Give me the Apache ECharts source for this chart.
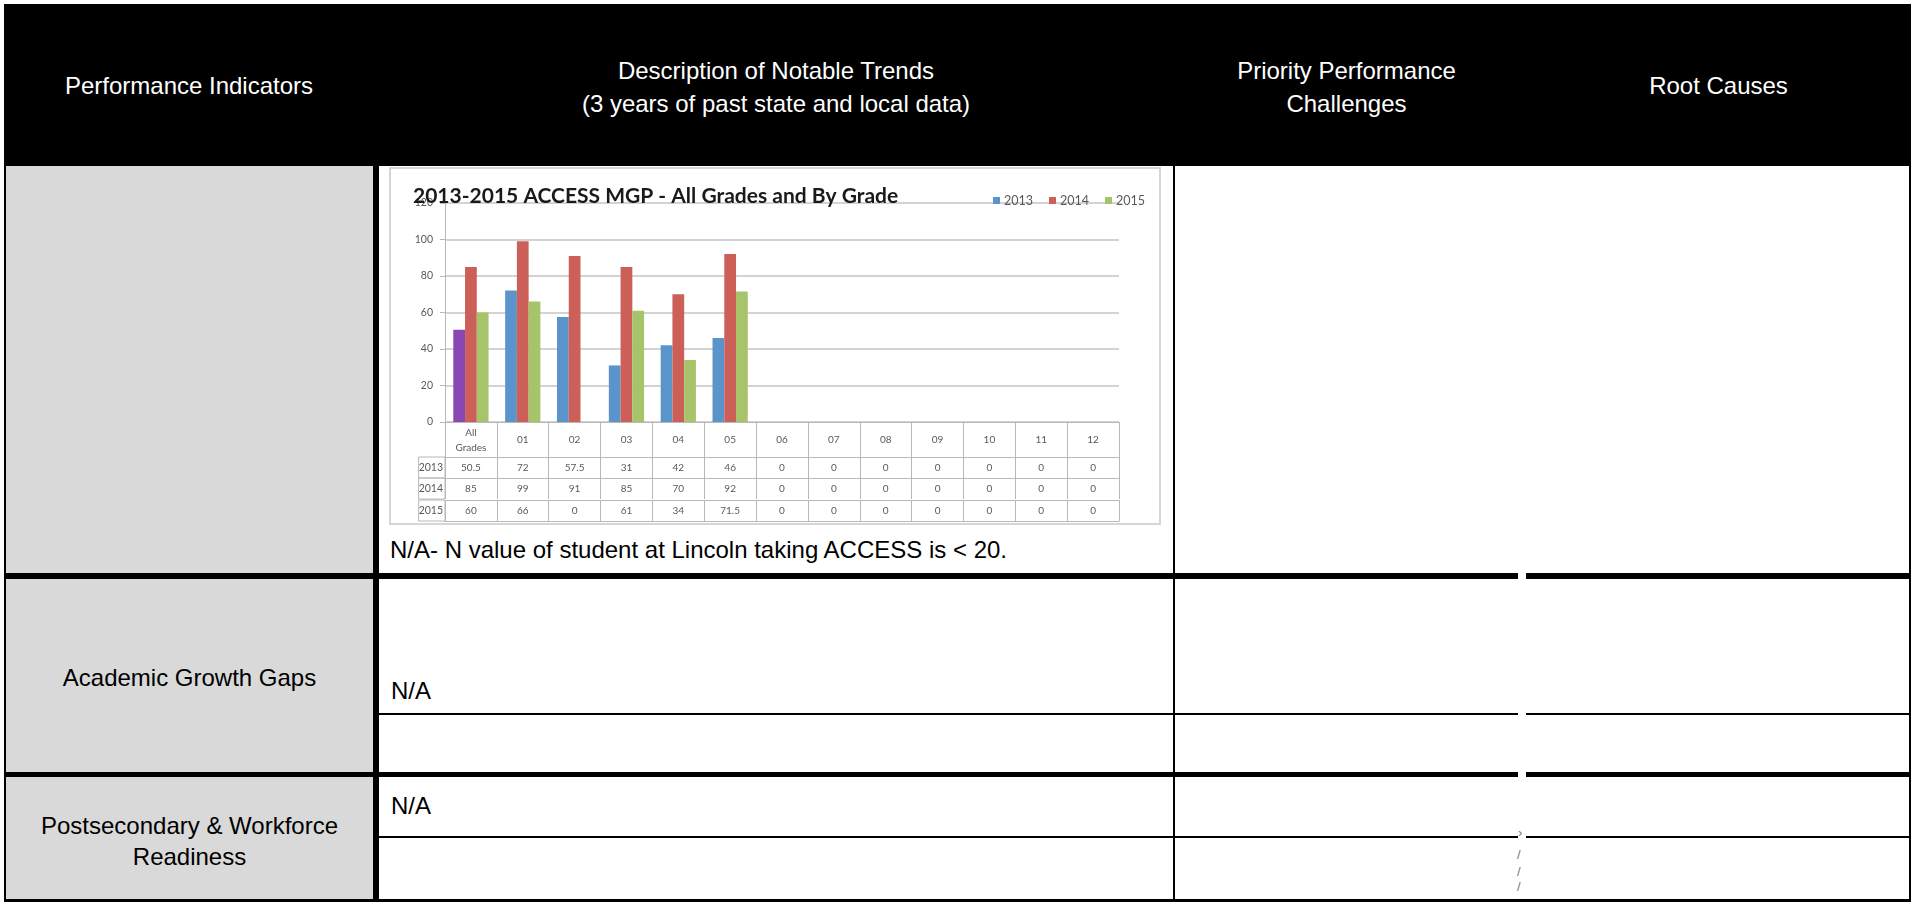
<!DOCTYPE html>
<html lang="en">
<head>
    <meta charset="UTF-8">
    <title>Performance Indicators - ACCESS MGP</title>
    <script src="https://cdn.jsdelivr.net/npm/echarts@6/dist/echarts.min.js"></script>
    <style>
        html, body {
            margin: 0;
            padding: 0;
            background: #fff;
            overflow: hidden;
        }

        body {
            width: 1915px;
            height: 902px;
            position: relative;
            font-family: "Liberation Sans", Arial, sans-serif;
            font-size: 24px;
            color: #000;
        }

        .blk { position: absolute; background: #000; }
        .gray { position: absolute; background: #d9d9d9; }
        .gap { position: absolute; background: #fff; left: 1518px; width: 8px; }
        .txt { position: absolute; line-height: 24px; white-space: nowrap; }
        .hd {
            position: absolute;
            top: 4px;
            height: 162px;
            display: flex;
            align-items: center;
            justify-content: center;
            text-align: center;
            color: #fff;
            line-height: 33px;
            padding-top: 4px;
            box-sizing: border-box;
        }
        .mark { position: absolute; font-size: 13px; color: #777; line-height: 13px; }
    </style>
</head>
<body>
<!-- header band -->
<div class="blk" style="left:4px; top:4px; width:1907px; height:162px;"></div>
<div class="hd" style="left:5px; width:368px; padding-top:0;">Performance Indicators</div>
<div class="hd" style="left:379px; width:794px;">Description of Notable Trends<br>(3 years of past state and local data)</div>
<div class="hd" style="left:1175px; width:343px;">Priority Performance<br>Challenges</div>
<div class="hd" style="left:1526px; width:385px; padding-top:0;">Root Causes</div>

<!-- grey indicator column -->
<div class="gray" style="left:6px; top:166px; width:367px; height:734px;"></div>

<!-- table rules -->
<div class="blk" style="left:4px; top:166px; width:2px; height:736px;"></div>
<div class="blk" style="left:373px; top:166px; width:6px; height:736px;"></div>
<div class="blk" style="left:1173px; top:166px; width:2px; height:736px;"></div>
<div class="blk" style="left:1909px; top:166px; width:2px; height:736px;"></div>
<div class="blk" style="left:4px; top:573px; width:1907px; height:6px;"></div>
<div class="blk" style="left:379px; top:713px; width:1532px; height:2px;"></div>
<div class="blk" style="left:4px; top:772px; width:1907px; height:5px;"></div>
<div class="blk" style="left:379px; top:836px; width:1532px; height:2px;"></div>
<div class="blk" style="left:4px; top:899px; width:1907px; height:3px;"></div>
<div class="gap" style="top:573px; height:6px;"></div>
<div class="gap" style="top:713px; height:2px;"></div>
<div class="gap" style="top:772px; height:5px;"></div>
<div class="gap" style="top:836px; height:2px;"></div>
<span class="mark" style="left:1518px; top:826px;">›</span>
<span class="mark" style="left:1517px; top:848px;">/</span>
<span class="mark" style="left:1517px; top:865px;">/</span>
<span class="mark" style="left:1517px; top:880px;">/</span>

<!-- chart picture -->
<div style="position:absolute; left:389px; top:167px; width:772px; height:358px; border:2px solid #d6d6d6; box-sizing:border-box;"></div>
<div id="main" style="position:absolute; left:391px; top:169px; width:768px; height:354px;"></div>

<div class="txt" style="left:390px; top:538px;">N/A- N value of student at Lincoln taking ACCESS is &lt; 20.</div>
<div class="txt" style="left:6px; top:666px; width:367px; text-align:center;">Academic Growth Gaps</div>
<div class="txt" style="left:391px; top:679px;">N/A</div>
<div class="txt" style="left:391px; top:794px;">N/A</div>
<div class="txt" style="left:6px; top:810px; width:367px; text-align:center; line-height:31px;">Postsecondary &amp; Workforce<br>Readiness</div>

<script type="application/javascript">
    var grades = ['All\nGrades', '01', '02', '03', '04', '05', '06', '07', '08', '09', '10', '11', '12'];
    var years = ['2013', '2014', '2015'];
    var mgp2013 = [50.5, 72, 57.5, 31, 42, 46, 0, 0, 0, 0, 0, 0, 0];
    var mgp2014 = [85, 99, 91, 85, 70, 92, 0, 0, 0, 0, 0, 0, 0];
    var mgp2015 = [60, 66, 0, 61, 34, 71.5, 0, 0, 0, 0, 0, 0, 0];
    var yTicks = [0, 20, 40, 60, 80, 100, 120];

    var colors = ['#5b93cb', '#cd5f59', '#a8c46a'];
    var allGradesColor = '#8a47b2';
    var tableLine = '#b8b8b8';
    var labelColor = '#595959';

    var myChart = echarts.init(document.getElementById('main'));

    // data table under the plot: one extra x axis per year row
    function rowAxis(values, name, offset) {
        return {
            type: 'category',
            position: 'bottom',
            offset: offset,
            data: grades,
            name: name,
            nameLocation: 'start',
            nameGap: 0,
            nameMoveOverlap: false,
            nameTextStyle: {
                fontSize: 10.5,
                color: labelColor,
                align: 'right',
                verticalAlign: 'top',
                width: 31,
                height: 21,
                lineHeight: 21,
                padding: [0, 2, 0, 0],
                borderColor: tableLine,
                borderWidth: 1
            },
            axisLine: {show: true, lineStyle: {color: tableLine, width: 1}},
            axisTick: {show: true, interval: 0, length: 21, lineStyle: {color: tableLine, width: 1}},
            axisLabel: {
                interval: 0,
                fontSize: 10,
                color: labelColor,
                verticalAlign: 'middle',
                margin: 11,
                formatter: function (v, i) {
                    return String(values[i]);
                }
            },
            splitLine: {show: false}
        };
    }

    var firstBars = mgp2013.map(function (v, i) {
        return i === 0 ? {value: v, itemStyle: {color: allGradesColor}} : v;
    });

    option = {
        animation: false,
        textStyle: {fontFamily: 'Lato'},
        title: {
            text: '2013-2015 ACCESS MGP - All Grades and By Grade',
            left: 22,
            top: 17,
            padding: 0,
            textStyle: {fontFamily: 'Lato', fontWeight: 'bold', fontSize: 21, color: '#1a1a1a'}
        },
        legend: {
            left: 602,
            top: 25,
            padding: 0,
            icon: 'rect',
            itemWidth: 7,
            itemHeight: 7,
            itemGap: 16,
            textStyle: {fontSize: 12.5, color: labelColor, padding: [0, 0, 0, -1]},
            data: years
        },
        grid: {left: 54, right: 40, top: 34, bottom: 101},
        xAxis: [
            {
                type: 'category',
                data: grades,
                axisLine: {show: true, lineStyle: {color: tableLine, width: 1}},
                axisTick: {show: true, interval: 0, length: 35, lineStyle: {color: tableLine, width: 1}},
                axisLabel: {
                    interval: 0,
                    fontSize: 10,
                    lineHeight: 15,
                    color: labelColor,
                    verticalAlign: 'middle',
                    margin: 18
                }
            },
            rowAxis(mgp2013, years[0], 35),
            rowAxis(mgp2014, years[1], 56),
            rowAxis(mgp2015, years[2], 78),
            {
                type: 'category',
                position: 'bottom',
                offset: 99,
                data: grades,
                axisLine: {show: true, lineStyle: {color: tableLine, width: 1}},
                axisTick: {show: false},
                axisLabel: {show: false}
            }
        ],
        yAxis: {
            type: 'value',
            min: yTicks[0],
            max: yTicks[yTicks.length - 1],
            interval: yTicks[1] - yTicks[0],
            axisLine: {show: true, lineStyle: {color: tableLine, width: 1}},
            axisTick: {show: true, length: 5, lineStyle: {color: tableLine}},
            axisLabel: {fontSize: 10.5, color: labelColor, margin: 12},
            splitLine: {lineStyle: {color: '#c4c4c4', width: 1.5}}
        },
        series: [
            {
                name: years[0],
                type: 'bar',
                barGap: '0%',
                barCategoryGap: '32%',
                itemStyle: {color: colors[0]},
                data: firstBars
            },
            {
                name: years[1],
                type: 'bar',
                barGap: '0%',
                barCategoryGap: '32%',
                itemStyle: {color: colors[1]},
                data: mgp2014
            },
            {
                name: years[2],
                type: 'bar',
                barGap: '0%',
                barCategoryGap: '32%',
                itemStyle: {color: colors[2]},
                data: mgp2015
            }
        ]
    };

    myChart.setOption(option);
</script>
</body>
</html>
